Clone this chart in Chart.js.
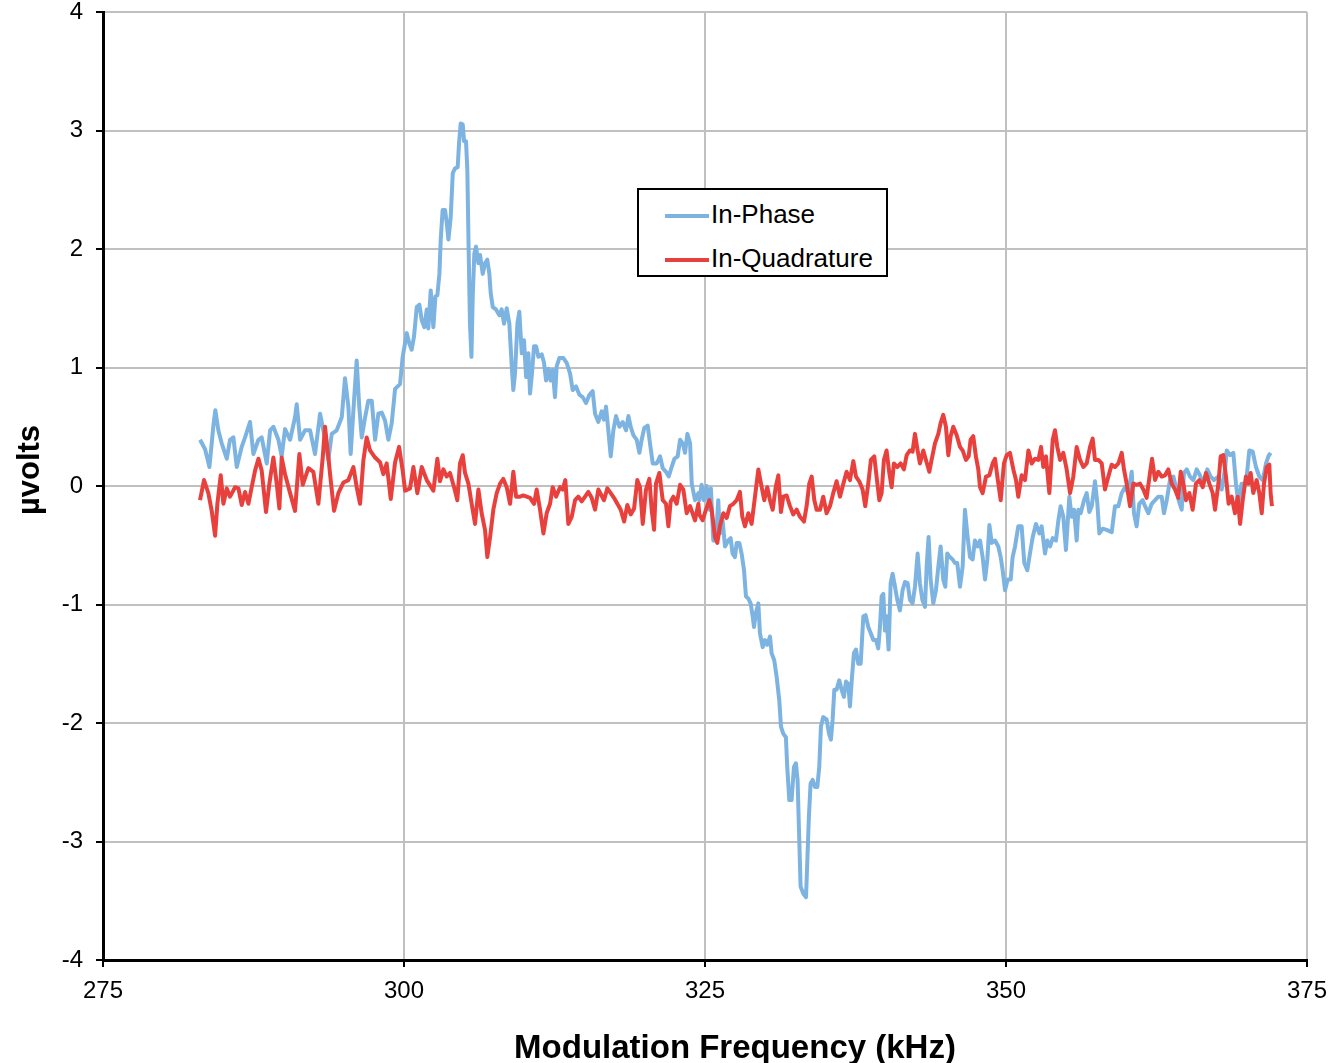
<!DOCTYPE html>
<html>
<head>
<meta charset="utf-8">
<script src="https://cdn.jsdelivr.net/npm/chart.js@4.4.1/dist/chart.umd.min.js"></script>
<style>
  html, body { margin: 0; padding: 0; background: #fff; }
  #wrap { position: relative; width: 1343px; height: 1063px; }
  #legend {
    position: absolute; left: 637px; top: 188px; width: 247px; height: 85px;
    border: 2px solid #000; background: #fff;
    font: 26px "Liberation Sans", Arial, sans-serif; color: #000;
  }
  .item { position: absolute; left: 26px; height: 30px; line-height: 30px; white-space: nowrap; }
  .item span.swatch { display: inline-block; width: 44px; height: 4px; vertical-align: middle; margin-right: 2px; }
</style>
</head>
<body>
<div id="wrap">
  <canvas id="chart" width="1343" height="1063"></canvas>
  <div id="legend"></div>
</div>
<script>
"use strict";

// values (kHz, µV)
let ipFreq = [
  283.06, 283.48, 283.84, 284.17, 284.33, 284.58, 284.86, 285.28, 285.55, 285.83,
  286.11, 286.52, 286.80, 287.21, 287.49, 287.91, 288.18, 288.60, 288.88, 289.15,
  289.57, 289.84, 290.12, 290.54, 290.95, 291.09, 291.37, 291.78, 292.20, 292.61,
  293.03, 293.30, 293.72, 294.00, 294.41, 294.83, 295.10, 295.38, 295.57, 295.85,
  296.07, 296.27, 296.49, 296.77, 297.04, 297.32, 297.60, 297.87, 298.15, 298.43,
  298.70, 298.98, 299.26, 299.67, 299.89, 300.23,
  300.45, 300.64, 300.83, 301.06, 301.28, 301.47, 301.69, 301.89, 302.02, 302.22,
  302.44, 302.61, 302.77, 302.94, 303.05, 303.21, 303.41, 303.55, 303.69, 303.88,
  304.05, 304.24, 304.46, 304.57, 304.71, 304.88, 304.99, 305.15, 305.26, 305.37,
  305.48, 305.60, 305.71, 305.84, 305.98, 306.18, 306.32, 306.54, 306.73, 306.92,
  307.09, 307.20, 307.37, 307.64, 307.92, 308.11, 308.31, 308.53, 308.75, 308.95,
  309.08, 309.22, 309.42, 309.58, 309.78, 309.97, 310.14, 310.33, 310.47, 310.63,
  310.80, 310.97, 311.16, 311.44, 311.63, 311.80, 311.99, 312.18, 312.35, 312.54,
  312.68, 312.90, 313.24, 313.51, 313.79, 314.01, 314.29, 314.57, 314.84, 315.12,
  315.40, 315.67, 315.87, 316.14, 316.42, 316.61, 316.78, 316.97, 317.17, 317.39,
  317.61, 317.89, 318.17, 318.44, 318.64, 318.83, 319.05, 319.33, 319.55, 319.74,
  319.96, 320.24, 320.43, 320.66, 320.99, 321.27, 321.49, 321.76, 321.99, 322.23,
  322.46, 322.73, 322.93, 323.15, 323.34, 323.54, 323.76, 323.90, 324.17, 324.45,
  324.53, 324.72, 324.91, 325.13, 325.36, 325.49, 325.69, 325.91, 326.10, 326.24,
  326.46, 326.66, 326.93, 327.13, 327.29, 327.49, 327.63, 327.85, 328.04, 328.24,
  328.40, 328.60, 328.79, 328.96, 329.07, 329.23, 329.43, 329.56, 329.79, 329.98,
  330.17, 330.40, 330.53, 330.75, 330.95, 331.17, 331.31, 331.50, 331.72, 331.83,
  332.00, 332.19, 332.39, 332.55, 332.69, 332.83, 332.94, 333.16, 333.39, 333.50,
  333.63, 333.77, 333.94, 334.13, 334.33, 334.49, 334.63, 334.82, 335.10, 335.30,
  335.46, 335.60, 335.74, 335.93, 336.15, 336.35, 336.54, 336.71, 336.90, 337.04,
  337.21, 337.37, 337.54, 337.73, 337.93, 338.15, 338.34, 338.56, 338.76, 338.98,
  339.20, 339.39, 339.53, 339.67, 339.81, 339.95, 340.08, 340.25, 340.42, 340.58,
  340.78, 340.97, 341.19, 341.41, 341.61, 341.83, 342.02, 342.24, 342.44, 342.66,
  342.85, 343.05, 343.27, 343.41, 343.57, 343.74, 343.96, 344.18, 344.38, 344.57,
  344.79, 344.96, 345.12, 345.34, 345.57, 345.76, 345.95, 346.18, 346.40, 346.59,
  346.78, 347.01, 347.23, 347.42, 347.64,
  347.84, 348.06, 348.26, 348.45, 348.62, 348.81, 349.09, 349.36, 349.56, 349.72,
  349.92, 350.14, 350.39, 350.55, 350.75, 351.02, 351.30, 351.52, 351.77, 351.99,
  352.22, 352.49, 352.77, 352.96, 353.24, 353.43, 353.66, 353.88, 354.15, 354.35,
  354.54, 354.76, 354.98, 355.26, 355.45, 355.65, 355.87, 356.01, 356.20, 356.48,
  356.70, 356.92, 357.12, 357.39, 357.59, 357.75, 358.03, 358.36, 358.78, 359.05,
  359.33, 359.61, 359.88, 360.16, 360.44, 360.63, 360.85, 361.07, 361.35, 361.55,
  361.82, 362.10, 362.38, 362.65, 362.93, 363.12, 363.35, 363.62, 363.90, 364.12,
  364.34, 364.59, 364.78, 365.01, 365.28, 365.56, 365.84, 366.11, 366.39, 366.72,
  367.00, 367.28, 367.64, 367.91, 368.19, 368.33, 368.61, 368.88, 369.10, 369.30,
  369.57, 369.93, 370.21, 370.49, 370.76, 371.04, 371.32, 371.60, 371.79, 371.98
];
let ipVolts = [
  0.39, 0.31, 0.16, 0.51, 0.64, 0.47, 0.36, 0.23, 0.39, 0.41,
  0.16, 0.33, 0.41, 0.54, 0.27, 0.39, 0.41, 0.19, 0.47, 0.50,
  0.39, 0.25, 0.48, 0.39, 0.58, 0.69, 0.39, 0.47, 0.47, 0.27,
  0.61, 0.47, 0.22, 0.44, 0.47, 0.58, 0.91, 0.67, 0.27, 0.72,
  1.06, 0.69, 0.41, 0.58, 0.72, 0.72, 0.39, 0.61, 0.62, 0.55,
  0.39, 0.53, 0.82, 0.86, 1.09, 1.29,
  1.20, 1.15, 1.26, 1.51, 1.53, 1.40, 1.34, 1.49, 1.33, 1.65,
  1.34, 1.60, 1.61, 1.79, 2.08, 2.33, 2.33, 2.22, 2.08, 2.27,
  2.64, 2.68, 2.69, 2.89, 3.06, 3.05, 2.91, 2.91, 2.67, 1.99,
  1.37, 1.09, 1.60, 1.96, 2.02, 1.88, 1.95, 1.79, 1.88, 1.91,
  1.79, 1.63, 1.51, 1.49, 1.44, 1.49, 1.37, 1.50, 1.37, 1.01,
  0.81, 0.95, 1.37, 1.47, 1.12, 1.23, 0.92, 1.12, 0.78, 0.95,
  1.18, 1.18, 1.09, 1.11, 1.04, 0.89, 0.99, 0.89, 0.98, 0.75,
  1.01, 1.08, 1.08, 1.04, 0.95, 0.81, 0.84, 0.77, 0.75, 0.70,
  0.77, 0.80, 0.61, 0.54, 0.63, 0.56, 0.67, 0.47, 0.25, 0.47,
  0.59, 0.50, 0.54, 0.47, 0.59, 0.50, 0.43, 0.39, 0.28, 0.39,
  0.49, 0.51, 0.36, 0.19, 0.19, 0.25, 0.15, 0.12, 0.08, 0.16,
  0.23, 0.25, 0.39, 0.36, 0.28, 0.44, 0.36, 0.02, -0.12, -0.06,
  -0.12, 0.01, -0.12, 0.00, -0.20, -0.02, -0.46, -0.46, -0.12, -0.40,
  -0.29, -0.51, -0.46, -0.44, -0.57, -0.60, -0.48, -0.48, -0.57, -0.71,
  -0.93, -0.95, -0.99, -1.10, -1.19, -1.07, -0.99, -1.24, -1.36, -1.30,
  -1.34, -1.27, -1.41, -1.47, -1.61, -1.81, -2.03, -2.09, -2.12, -2.37,
  -2.65, -2.65, -2.37, -2.34, -2.48, -2.99, -3.38, -3.44, -3.47, -3.16,
  -2.79, -2.51, -2.48, -2.54, -2.54, -2.37, -2.03, -1.95, -1.97, -2.09,
  -2.14, -1.97, -1.72, -1.72, -1.64, -1.72, -1.78, -1.65, -1.67, -1.86,
  -1.61, -1.41, -1.38, -1.50, -1.50, -1.10, -1.09, -1.19, -1.24, -1.30,
  -1.30, -1.37, -1.19, -0.93, -0.91, -1.22, -1.10, -1.38, -0.82, -0.74,
  -0.85, -0.96, -1.05, -0.88, -0.81, -0.82, -0.96, -0.99, -0.85, -0.57,
  -0.82, -0.96, -1.02, -0.68, -0.43, -0.79, -0.99, -0.88, -0.68, -0.51,
  -0.79, -0.85, -0.57, -0.60, -0.62, -0.65, -0.65, -0.85, -0.68, -0.20,
  -0.40, -0.60, -0.62, -0.46, -0.51,
  -0.46, -0.60, -0.79, -0.62, -0.33, -0.48, -0.46, -0.51, -0.60, -0.71,
  -0.88, -0.79, -0.79, -0.60, -0.51, -0.34, -0.34, -0.65, -0.71, -0.57,
  -0.43, -0.32, -0.40, -0.34, -0.57, -0.46, -0.51, -0.44, -0.46, -0.29,
  -0.17, -0.26, -0.54, -0.09, -0.26, -0.20, -0.46, -0.20, -0.23, -0.12,
  -0.06, -0.22, -0.17, 0.04, -0.15, -0.40, -0.36, -0.37, -0.39, -0.17,
  -0.17, -0.06, -0.01, -0.06, 0.12, -0.23, -0.34, -0.15, -0.12, -0.17,
  -0.23, -0.15, -0.12, -0.09, -0.09, -0.23, -0.12, 0.05, 0.08, -0.01,
  -0.12, -0.20, 0.11, 0.14, 0.08, 0.05, 0.14, 0.09, 0.02, 0.14,
  0.08, 0.05, 0.08, -0.03, 0.14, 0.30, 0.26, 0.28, 0.02, -0.15,
  0.02, 0.02, 0.30, 0.29, 0.16, 0.08, 0.05, 0.19, 0.25, 0.28
];

let iqFreq = [
  283.06, 283.39, 283.75, 284.03, 284.31, 284.50, 284.78, 285.00, 285.28, 285.55,
  285.97, 286.25, 286.52, 286.80, 287.08, 287.35, 287.63, 287.91, 288.18, 288.54,
  288.82, 289.15, 289.43, 289.65, 289.84, 290.12, 290.54, 290.95, 291.31, 291.59,
  292.06, 292.47, 292.89, 293.25, 293.44, 293.72, 293.91, 294.19, 294.55, 294.97,
  295.38, 295.80, 296.07, 296.35, 296.63, 296.90, 297.18, 297.60, 298.01, 298.29,
  298.56, 298.90, 299.26, 299.59, 299.89, 300.09, 300.50, 300.78, 301.11, 301.47,
  301.89, 302.44, 302.77,
  302.99, 303.27, 303.55, 303.82, 304.16, 304.43, 304.65, 304.88, 305.07, 305.35,
  305.62, 305.90, 306.18, 306.45, 306.73, 306.92, 307.15, 307.42, 307.70, 307.98,
  308.25, 308.53, 308.81, 309.08, 309.31, 309.64, 309.91, 310.19, 310.47, 310.80,
  311.02, 311.30, 311.58, 311.85, 312.13, 312.35, 312.63, 312.96, 313.18, 313.40,
  313.65, 313.93, 314.21, 314.48, 314.76, 315.04, 315.31, 315.59, 315.87, 316.14,
  316.61, 316.89, 317.17, 317.44, 317.72, 318.00, 318.28, 318.55, 318.83, 319.11,
  319.38, 319.60, 319.83, 320.10, 320.38, 320.57, 320.77, 320.93, 321.21, 321.49,
  321.76, 321.96, 322.15, 322.37, 322.65, 322.93, 323.20, 323.48, 323.76, 324.17,
  324.45,
  324.53, 324.80, 325.08, 325.36, 325.55, 325.83, 326.02, 326.24, 326.52, 326.80,
  327.07, 327.35, 327.63, 327.90, 328.10, 328.32, 328.60, 328.87, 329.15, 329.43,
  329.65, 329.92, 330.17, 330.40, 330.62, 330.87, 331.09, 331.31, 331.50, 331.78,
  332.06, 332.33, 332.61, 332.89, 333.22, 333.44, 333.66, 333.86, 334.08, 334.27,
  334.55, 334.82, 335.10, 335.38, 335.65, 335.93, 336.21, 336.49, 336.76, 337.04,
  337.32, 337.54, 337.81, 338.09, 338.31, 338.56, 338.78, 339.06, 339.25, 339.48,
  339.67, 339.86, 340.08, 340.31, 340.50, 340.69, 340.97, 341.25, 341.52, 341.75,
  342.02, 342.24, 342.44, 342.66, 342.85, 343.13, 343.35, 343.63, 343.82, 344.10,
  344.38, 344.57, 344.79, 345.01, 345.21, 345.40, 345.62, 345.90, 346.18, 346.40,
  346.67, 346.90, 347.06, 347.28, 347.50, 347.70, 347.84,
  348.06, 348.34, 348.62, 348.89, 349.09, 349.28, 349.56, 349.83, 350.06, 350.33,
  350.61, 350.83, 351.02, 351.30, 351.58, 351.86, 352.13, 352.41, 352.69, 352.91,
  353.10, 353.32, 353.60, 353.88, 354.07, 354.26, 354.49, 354.76, 355.04, 355.32,
  355.59, 355.87, 356.15, 356.42, 356.70, 356.98, 357.20, 357.39, 357.67, 357.95,
  358.22, 358.50, 358.78, 359.05, 359.33, 359.61, 359.80, 360.02, 360.30, 360.58,
  360.85, 361.13, 361.41, 361.68, 361.96, 362.13, 362.38, 362.65, 362.93, 363.21,
  363.48, 363.76, 364.04, 364.31, 364.51, 364.73, 364.95, 365.23, 365.50, 365.78,
  366.06, 366.34, 366.61, 366.89, 367.17, 367.36, 367.64, 367.83, 368.05, 368.27,
  368.49, 368.74, 369.02, 369.24, 369.44, 369.66, 369.93, 370.13, 370.32, 370.54,
  370.82, 371.04, 371.24, 371.43, 371.65, 371.87, 371.98, 372.09
];
let iqVolts = [
  -0.12, 0.05, -0.06, -0.21, -0.42, -0.15, 0.09, -0.15, -0.02, -0.09,
  -0.01, -0.02, -0.16, -0.05, -0.15, -0.01, 0.13, 0.23, 0.13, -0.22,
  0.02, 0.24, 0.02, -0.19, 0.24, 0.10, -0.06, -0.21, 0.27, 0.01,
  0.15, 0.12, -0.15, 0.24, 0.50, 0.24, 0.05, -0.21, -0.06, 0.03,
  0.05, 0.16, -0.01, -0.15, 0.22, 0.41, 0.30, 0.24, 0.20, 0.10,
  0.19, -0.11, 0.20, 0.33, 0.13, -0.04, -0.02, 0.16, -0.06, 0.16,
  0.05, -0.04, 0.23,
  0.04, 0.14, 0.08, 0.11, -0.01, -0.12, 0.19, 0.26, 0.11, 0.02,
  -0.15, -0.32, -0.03, -0.23, -0.37, -0.60, -0.43, -0.20, -0.06, 0.02,
  0.06, -0.01, -0.15, 0.12, -0.09, -0.09, -0.08, -0.09, -0.10, -0.15,
  -0.03, -0.20, -0.40, -0.23, -0.15, -0.01, -0.09, -0.01, -0.03, 0.05,
  -0.32, -0.26, -0.12, -0.09, -0.13, -0.09, -0.05, -0.10, -0.20, -0.03,
  -0.12, -0.02, -0.06, -0.10, -0.15, -0.20, -0.30, -0.16, -0.24, -0.19,
  0.05, -0.01, -0.32, -0.03, 0.06, -0.20, -0.37, 0.02, 0.11, -0.12,
  -0.15, -0.34, -0.13, -0.09, -0.15, 0.01, -0.03, -0.23, -0.17, -0.29,
  -0.15,
  -0.24, -0.29, -0.20, -0.12, -0.20, -0.43, -0.48, -0.34, -0.23, -0.27,
  -0.17, -0.15, -0.12, -0.05, -0.26, -0.34, -0.23, -0.32, -0.09, 0.14,
  0.02, -0.12, -0.01, -0.12, -0.20, -0.01, 0.09, -0.22, -0.09, -0.08,
  -0.17, -0.24, -0.20, -0.26, -0.30, -0.17, 0.02, 0.08, -0.12, -0.20,
  -0.20, -0.09, -0.23, -0.17, -0.06, 0.04, -0.09, 0.02, 0.12, 0.05,
  0.21, 0.08, 0.04, -0.03, -0.17, 0.02, 0.22, 0.25, 0.08, -0.12,
  -0.06, 0.22, 0.30, 0.11, -0.01, 0.19, 0.16, 0.19, 0.14, 0.26,
  0.30, 0.29, 0.44, 0.30, 0.19, 0.30, 0.22, 0.12, 0.22, 0.36,
  0.44, 0.53, 0.60, 0.50, 0.26, 0.42, 0.50, 0.43, 0.33, 0.30,
  0.22, 0.25, 0.39, 0.42, 0.25, 0.14, -0.01,
  -0.06, 0.08, 0.09, 0.19, 0.23, 0.08, -0.12, 0.19, 0.26, 0.28,
  0.14, 0.05, -0.09, 0.09, 0.05, 0.30, 0.19, 0.23, 0.22, 0.33,
  0.16, 0.25, -0.06, 0.39, 0.47, 0.33, 0.22, 0.28, 0.14, -0.06,
  0.08, 0.33, 0.22, 0.16, 0.19, 0.33, 0.40, 0.22, 0.22, 0.19,
  -0.03, 0.08, 0.18, 0.16, 0.19, 0.28, 0.14, 0.02, -0.17, 0.02,
  0.01, 0.02, -0.03, -0.10, 0.11, 0.23, 0.05, 0.12, 0.08, 0.09,
  0.14, 0.02, -0.03, -0.10, 0.12, 0.02, -0.12, -0.06, -0.20, 0.02,
  0.05, -0.01, 0.11, 0.02, -0.06, -0.20, 0.02, 0.25, 0.26, 0.08,
  -0.15, -0.09, -0.23, -0.09, -0.32, -0.12, 0.08, 0.02, 0.11, -0.06,
  0.05, -0.06, -0.23, 0.02, 0.16, 0.18, -0.06, -0.17
];

let xTicks = [275, 300, 325, 350, 375];
let yTicks = [-4, -3, -2, -1, 0, 1, 2, 3, 4];

let toPoints = (xs, ys) => xs.map((x, i) => ({ x: x, y: ys[i] }));

const FONT = '"Liberation Sans", Arial, Helvetica, sans-serif';

// axis titles, placed like the reference (x title sits a bit right of centre)
const axisTitles = {
  id: "axisTitles",
  afterDraw(chart) {
    const ctx = chart.ctx;
    const area = chart.chartArea;
    ctx.save();
    ctx.fillStyle = "#000";
    ctx.textAlign = "center";
    ctx.textBaseline = "alphabetic";
    ctx.font = "bold 33px " + FONT;
    ctx.fillText("Modulation Frequency (kHz)", (area.left + area.right) / 2 + 30, 1058);
    ctx.translate(39, (area.top + area.bottom) / 2 - 16);
    ctx.rotate(-Math.PI / 2);
    ctx.font = "bold 31px " + FONT;
    ctx.fillText("µvolts", 0, 0);
    ctx.restore();
  },
};

// keep the plot box fixed, no extra room for the end labels
let noEdgePad = (scale) => {
  scale.paddingTop = 0;
  scale.paddingBottom = 0;
  scale.paddingLeft = 0;
  scale.paddingRight = 0;
};

let ctx = document.getElementById("chart").getContext("2d");
let chart = new Chart(ctx, {
  type: "line",
  data: {
    datasets: [
      {
        label: "In-Phase",
        data: toPoints(ipFreq, ipVolts),
        borderColor: "#7db3e1",
        backgroundColor: "#7db3e1",
        borderWidth: 4,
        borderJoinStyle: "round",
        pointRadius: 0,
        tension: 0,
        order: 1,
      },
      {
        label: "In-Quadrature",
        data: toPoints(iqFreq, iqVolts),
        borderColor: "#e8413d",
        backgroundColor: "#e8413d",
        borderWidth: 4,
        borderJoinStyle: "round",
        pointRadius: 0,
        tension: 0,
        order: 0,
      },
    ],
  },
  options: {
    responsive: false,
    animation: false,
    layout: { padding: { left: 0, top: 12, right: 36, bottom: 0 } },
    plugins: {
      legend: { display: false },
      tooltip: { enabled: false },
    },
    scales: {
      x: {
        type: "linear",
        min: 275,
        max: 375,
        afterBuildTicks: (scale) => {
          scale.ticks = xTicks.map((v) => ({ value: v }));
        },
        afterFit: (scale) => {
          scale.height = 103;
          noEdgePad(scale);
        },
        ticks: {
          color: "#000",
          font: { family: FONT, size: 24 },
          padding: 10,
          maxRotation: 0,
        },
        grid: {
          color: "#c0c0c0",
          lineWidth: 2,
          tickColor: "#000",
          tickLength: 7,
          tickWidth: 2,
        },
        border: { color: "#000", width: 3 },
      },
      y: {
        type: "linear",
        min: -4,
        max: 4,
        afterBuildTicks: (scale) => {
          scale.ticks = yTicks.map((v) => ({ value: v }));
        },
        afterFit: (scale) => {
          scale.width = 103;
          noEdgePad(scale);
        },
        ticks: {
          color: "#000",
          font: { family: FONT, size: 24 },
          padding: 13,
        },
        grid: {
          color: "#c0c0c0",
          lineWidth: 2,
          tickColor: "#000",
          tickLength: 7,
          tickWidth: 2,
        },
        border: { color: "#000", width: 3 },
      },
    },
  },
  plugins: [axisTitles],
});

// legend box from the datasets
let legendBox = document.getElementById("legend");
chart.data.datasets.forEach((ds, i) => {
  let row = document.createElement("div");
  row.className = "item";
  row.style.top = (9 + i * 44) + "px";
  let sw = document.createElement("span");
  sw.className = "swatch";
  sw.style.background = ds.borderColor;
  row.appendChild(sw);
  row.appendChild(document.createTextNode(ds.label));
  legendBox.appendChild(row);
});
</script>
</body>
</html>
